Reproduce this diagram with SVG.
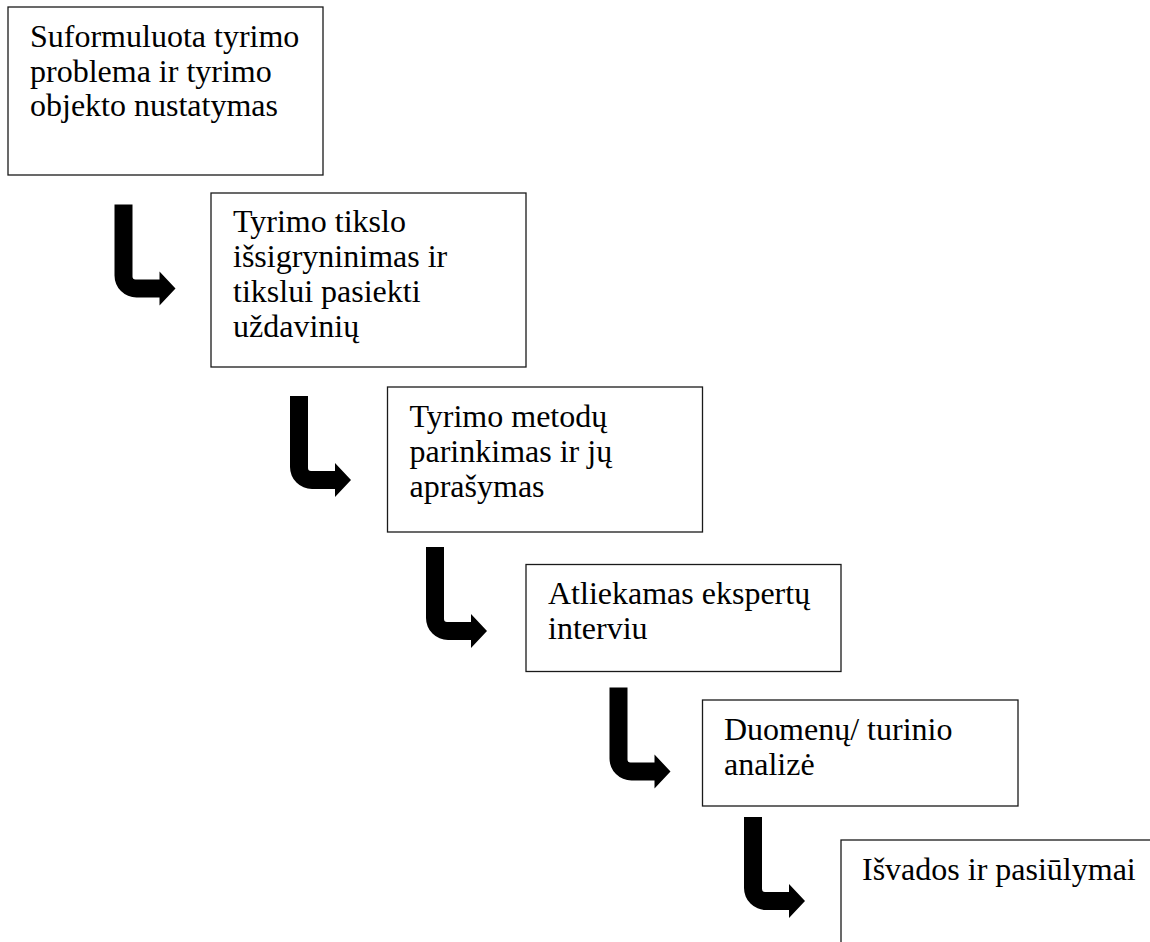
<svg xmlns="http://www.w3.org/2000/svg" width="1150" height="942" viewBox="0 0 1150 942">
<defs>
<style>
.box{fill:#fff;stroke:#1a1a1a;stroke-width:1.3}
.t{font-family:"Liberation Serif","Times New Roman",serif;font-size:32px;fill:#000}
.arr{fill:#000}
</style>
<path id="bend" d="M0 0 H18 V72 Q18 75 21 75 H45 V67 L61 84 L45 101 V93 H22 A22 22 0 0 1 0 71 Z"/>
</defs>
<rect width="1150" height="942" fill="#fff"/>
<g id="node1">
<rect class="box" x="8" y="7" width="315" height="168"/>
<text class="t" x="30" y="46.5">Suformuluota tyrimo</text>
<text class="t" x="30" y="81.5">problema ir tyrimo</text>
<text class="t" x="30" y="116">objekto nustatymas</text>
</g>
<g id="node2">
<rect class="box" x="211" y="193" width="315" height="174"/>
<text class="t" x="233" y="232">Tyrimo tikslo</text>
<text class="t" x="233" y="267">išsigryninimas ir</text>
<text class="t" x="233" y="302">tikslui pasiekti</text>
<text class="t" x="233" y="337">uždavinių</text>
</g>
<g id="node3">
<rect class="box" x="387.5" y="387" width="315" height="145"/>
<text class="t" x="409.5" y="426.5">Tyrimo metodų</text>
<text class="t" x="409.5" y="461.5">parinkimas ir jų</text>
<text class="t" x="409.5" y="496.5">aprašymas</text>
</g>
<g id="node4">
<rect class="box" x="526" y="564.5" width="315" height="107"/>
<text class="t" x="548" y="604">Atliekamas ekspertų</text>
<text class="t" x="548" y="639">interviu</text>
</g>
<g id="node5">
<rect class="box" x="702.5" y="700" width="315.5" height="106"/>
<text class="t" x="724" y="740">Duomenų/ turinio</text>
<text class="t" x="724" y="775">analizė</text>
</g>
<g id="node6">
<rect class="box" x="841" y="840" width="400" height="200"/>
<text class="t" x="862" y="880">Išvados ir pasiūlymai</text>
</g>
<g id="connectors" class="arr">
<use href="#bend" x="114.5" y="204.5"/>
<use href="#bend" x="290" y="396"/>
<use href="#bend" x="426" y="547"/>
<use href="#bend" x="609.5" y="687.5"/>
<use href="#bend" x="744" y="817"/>
</g>
</svg>
